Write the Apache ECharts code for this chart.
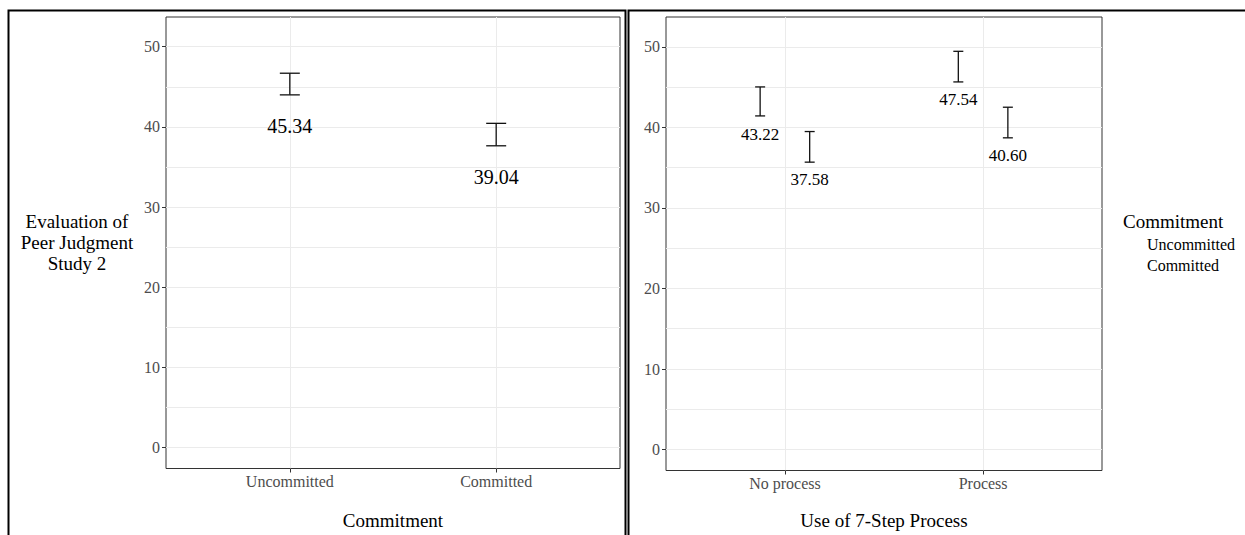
<!DOCTYPE html>
<html><head><meta charset="utf-8">
<script src="https://cdn.jsdelivr.net/npm/echarts@6/dist/echarts.min.js"></script>
<style>html,body{margin:0;padding:0;background:#fff}#c{width:1245px;height:535px}</style>
</head><body><div id="c"></div>
<script>
// ---- data ----
const leftCategories = ['Uncommitted', 'Committed'];
const leftMeans = [45.34, 39.04];
const leftErrors = [1.35, 1.4];

const rightCategories = ['No process', 'Process'];
const commitmentGroups = ['Uncommitted', 'Committed'];
const rightUncommittedMeans = [43.22, 47.54];
const rightUncommittedErrors = [1.8, 1.9];
const rightCommittedMeans = [37.58, 40.60];
const rightCommittedErrors = [1.9, 1.9];

const yTicks = [0, 10, 20, 30, 40, 50];

// ---- helpers ----
const FONT = 'Liberation Serif, serif';
const yGridValues = [];
yTicks.forEach((t, i) => { yGridValues.push(t); if (i < yTicks.length - 1) yGridValues.push((t + yTicks[i + 1]) / 2); });
const catPos = cats => cats.map((c, i) => i + 1);
const Y_MIN = -2.6, Y_MAX = 53.7;
const DODGE = 0.125;

function xAxisFor(grid, cats, title, gap) {
  return {
    gridIndex: grid, type: 'value', min: 0.4, max: 2.6, position: 'bottom',
    name: title, nameLocation: 'middle', nameGap: gap,
    nameTextStyle: { fontFamily: FONT, fontSize: 19, color: '#000', verticalAlign: 'middle' },
    axisLine: { show: false, onZero: false },
    axisTick: { show: true, customValues: catPos(cats), length: 4, lineStyle: { color: '#333', width: 1 } },
    axisLabel: { customValues: catPos(cats), formatter: v => cats[Math.round(v) - 1], fontFamily: FONT, fontSize: 16, color: '#4d4d4d', margin: 5 },
    splitLine: { show: true, lineStyle: { color: '#ebebeb', width: 1 } }
  };
}
function yGridAxis(grid) {
  return {
    gridIndex: grid, type: 'value', min: Y_MIN, max: Y_MAX, position: 'left',
    axisLine: { show: false, onZero: false },
    axisTick: { show: false, customValues: yGridValues },
    axisLabel: { show: false },
    splitLine: { show: true, lineStyle: { color: '#ebebeb', width: 1 } }
  };
}
function yLabelAxis(grid, name) {
  const ax = {
    gridIndex: grid, type: 'value', min: Y_MIN, max: Y_MAX, position: 'left', offset: 0,
    axisLine: { show: false, onZero: false },
    axisTick: { show: true, customValues: yTicks, length: 4, lineStyle: { color: '#333', width: 1 } },
    axisLabel: { customValues: yTicks, fontFamily: FONT, fontSize: 16, color: '#4d4d4d', margin: 6 },
    splitLine: { show: false }
  };
  if (name) {
    ax.name = name; ax.nameLocation = 'middle'; ax.nameRotate = 0; ax.nameGap = 89;
    ax.nameTextStyle = { fontFamily: FONT, fontSize: 19, color: '#000', align: 'center', verticalAlign: 'middle', lineHeight: 21 };
  }
  return ax;
}
function errSeries(name, xIdx, yIdx, xs, means, errs, cap, fontSize, labelGap) {
  return {
    name, type: 'custom', xAxisIndex: xIdx, yAxisIndex: yIdx,
    data: xs.map((x, i) => [x, means[i], means[i] - errs[i], means[i] + errs[i]]),
    renderItem(params, api) {
      const x = api.value(0), m = api.value(1), lo = api.value(2), hi = api.value(3);
      const pHi = api.coord([x, hi]), pLo = api.coord([x, lo]), pM = api.coord([x, m]);
      const style = { stroke: '#111', lineWidth: 1.3, fill: null };
      return { type: 'group', children: [
        { type: 'line', shape: { x1: pHi[0], y1: pHi[1], x2: pLo[0], y2: pLo[1] }, style },
        { type: 'line', shape: { x1: pHi[0] - cap, y1: pHi[1], x2: pHi[0] + cap, y2: pHi[1] }, style },
        { type: 'line', shape: { x1: pLo[0] - cap, y1: pLo[1], x2: pLo[0] + cap, y2: pLo[1] }, style },
        { type: 'text', x: pM[0], y: pM[1] + labelGap,
          style: { text: m.toFixed(2), fill: '#000', fontFamily: FONT, fontSize, align: 'center', verticalAlign: 'middle' } }
      ] };
    }
  };
}

const chart = echarts.init(document.getElementById('c'), null, { renderer: 'svg' });
const leftX = catPos(leftCategories);
const rightX = catPos(rightCategories);
chart.setOption({
  animation: false,
  backgroundColor: '#fff',
  textStyle: { fontFamily: FONT },
  grid: [
    { left: 166, top: 17, width: 454, height: 458, show: true, borderColor: '#333', borderWidth: 1, backgroundColor: 'transparent' },
    { left: 666, top: 17, width: 436, height: 456, show: true, borderColor: '#333', borderWidth: 1, backgroundColor: 'transparent' }
  ],
  xAxis: [
    xAxisFor(0, leftCategories, 'Commitment', 52),
    xAxisFor(1, rightCategories, 'Use of 7-Step Process', 50)
  ],
  yAxis: [
    yGridAxis(0),
    yLabelAxis(0, 'Evaluation of\nPeer Judgment\nStudy 2'),
    yGridAxis(1),
    yLabelAxis(1, null)
  ],
  series: [
    errSeries('Commitment', 0, 0, leftX, leftMeans, leftErrors, 10, 20, 42),
    errSeries(commitmentGroups[0], 1, 2, rightX.map(x => x - DODGE), rightUncommittedMeans, rightUncommittedErrors, 5, 17, 33),
    errSeries(commitmentGroups[1], 1, 2, rightX.map(x => x + DODGE), rightCommittedMeans, rightCommittedErrors, 5, 17, 33)
  ],
  graphic: [
    { type: 'rect', shape: { x: 8.5, y: 10.5, width: 617, height: 600 }, style: { stroke: '#000', lineWidth: 2, fill: null }, silent: true },
    { type: 'rect', shape: { x: 628.5, y: 10.5, width: 700, height: 600 }, style: { stroke: '#000', lineWidth: 2, fill: null }, silent: true },
    { type: 'text', left: 1123, top: 212, style: { text: 'Commitment', fontFamily: FONT, fontSize: 19, fill: '#000' } },
    { type: 'text', left: 1147, top: 236, style: { text: commitmentGroups[0], fontFamily: FONT, fontSize: 16, fill: '#000' } },
    { type: 'text', left: 1147, top: 257, style: { text: commitmentGroups[1], fontFamily: FONT, fontSize: 16, fill: '#000' } }
  ]
});
</script></body></html>
